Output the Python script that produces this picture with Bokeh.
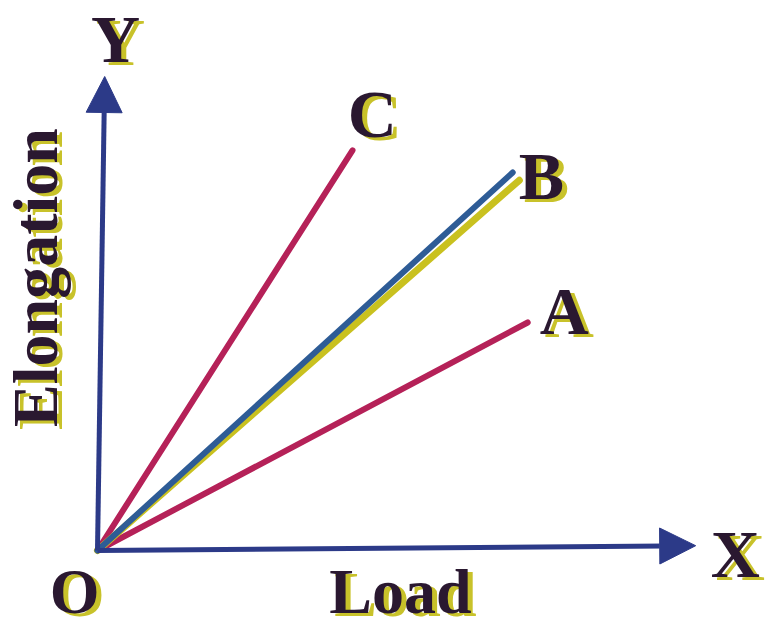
import math
from bokeh.plotting import figure
from bokeh.models import Range1d, Arrow, NormalHead
from bokeh.core.properties import value
from bokeh.embed import file_html
from bokeh.resources import INLINE

# Load–elongation lines for three wires (end points of each straight line)
wires = ["A", "C"]
wire_load = [7.17, 4.25]
wire_elong = [3.80, 6.67]

# Wire B is drawn as a blue/yellow pair of close lines
b_blue_load, b_blue_elong = 6.92, 6.30
b_yellow_load, b_yellow_elong = 7.03, 6.17

# Axis arrows (tip positions)
x_axis_tip = (9.97, 0.08)
y_axis_tip = (0.12, 7.90)

# Text labels and their anchor points
label_text = ["Y", "C", "B", "A", "X"]
label_x = [0.30, 4.58, 7.40, 7.78, 10.63]
label_y = [8.53, 7.27, 6.25, 4.00, -0.05]
bottom_text = ["O", "Load"]
bottom_x = [-0.38, 5.05]
bottom_y = [-0.68, -0.68]
ylabel_text = "Elongation"
ylabel_pos = (-1.03, 4.55)

AXIS_BLUE = "#2c3a88"
CRIMSON = "#b52158"
LINE_BLUE = "#2e5c96"
LINE_YELLOW = "#c9c11f"
INK = "#2a1830"
SHADOW = "#c8c22a"
FONT = value("Liberation Serif")

p = figure(width=765, height=634, output_backend="svg", toolbar_location=None,
           x_range=Range1d(-97 / 60, 668 / 60), y_range=Range1d(-84 / 60, 550 / 60),
           min_border=0)
p.axis.visible = False
p.grid.visible = False
p.outline_line_color = None
p.background_fill_color = "white"

# axes with arrowheads
for tip in (x_axis_tip, y_axis_tip):
    p.add_layout(Arrow(x_start=0, y_start=0, x_end=tip[0], y_end=tip[1],
                       line_color=AXIS_BLUE, line_width=5,
                       end=NormalHead(size=36, fill_color=AXIS_BLUE, line_color=AXIS_BLUE)))

# wire lines
p.segment(x0=[0] * len(wires), y0=[0] * len(wires), x1=wire_load, y1=wire_elong,
          line_color=CRIMSON, line_width=6, line_cap="round")
p.segment(x0=[0], y0=[0], x1=[b_yellow_load], y1=[b_yellow_elong],
          line_color=LINE_YELLOW, line_width=7, line_cap="round")
p.segment(x0=[0], y0=[0], x1=[b_blue_load], y1=[b_blue_elong],
          line_color=LINE_BLUE, line_width=6, line_cap="round")

# labels: a yellow shadow behind dark bold serif text
for color, dx, dy in ((SHADOW, 5, 3), (INK, 0, 0)):
    p.text(x=label_x, y=label_y, text=label_text, text_font=FONT,
           text_font_style="bold", text_font_size="68px", text_color=color,
           text_align="center", text_baseline="middle", x_offset=dx, y_offset=dy)
    p.text(x=bottom_x, y=bottom_y, text=bottom_text, text_font=FONT,
           text_font_style="bold", text_font_size="64px", text_color=color,
           text_align="center", text_baseline="middle", x_offset=dx, y_offset=dy)
    p.text(x=[ylabel_pos[0]], y=[ylabel_pos[1]], text=[ylabel_text], text_font=FONT,
           text_font_style="bold", text_font_size="64px", text_color=color,
           text_align="center", text_baseline="middle", angle=math.pi / 2,
           x_offset=dx, y_offset=dy)

open("out.html", "w").write(file_html(p, INLINE))
